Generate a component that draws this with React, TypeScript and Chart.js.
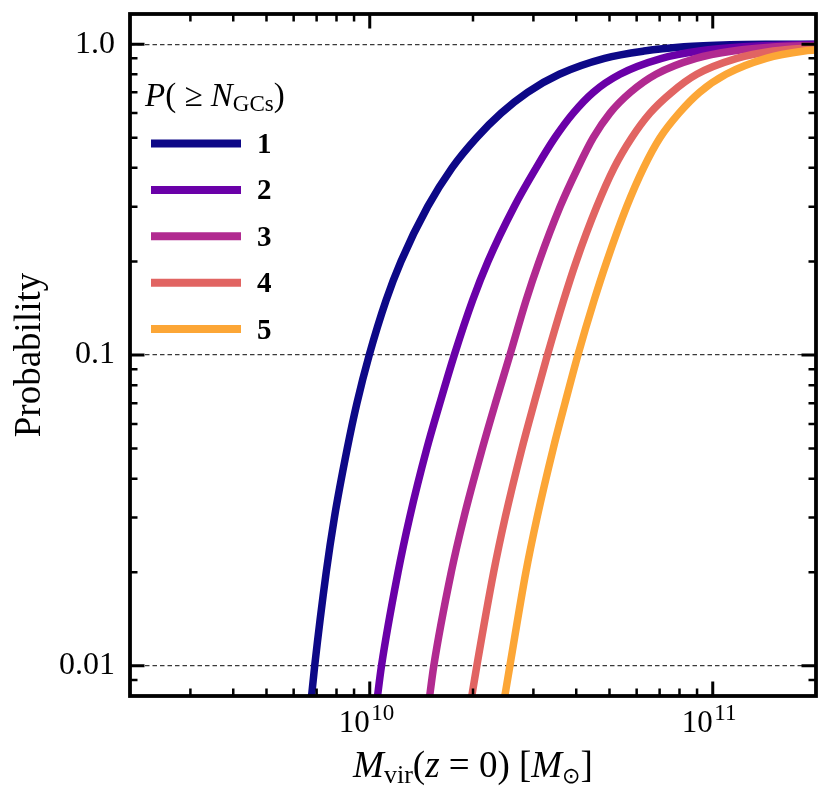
import React, { useEffect, useRef } from 'react';
import { Chart, registerables } from 'chart.js';

Chart.register(...registerables);

// ---- data (halo mass in Msun, cumulative probability) ----
const massN1 = [6.727e9, 6.910e9, 7.466e9, 7.888e9, 8.597e9, 9.176e9, 9.966e9, 1.116e10, 1.233e10, 1.475e10, 1.737e10, 2.049e10, 2.416e10, 2.884e10, 3.570e10, 4.837e10, 6.303e10, 8.244e10, 1.123e11, 1.520e11, 2.0e11];
const probN1 = [0.0075, 0.01, 0.02, 0.03, 0.05, 0.07, 0.1, 0.15, 0.2, 0.3, 0.4, 0.5, 0.6, 0.7, 0.8, 0.9, 0.95, 0.98, 0.995, 0.999, 1.0];

const massN2 = [1.046e10, 1.082e10, 1.209e10, 1.307e10, 1.467e10, 1.601e10, 1.764e10, 1.995e10, 2.211e10, 2.637e10, 3.057e10, 3.466e10, 3.919e10, 4.483e10, 5.364e10, 7.099e10, 9.139e10, 1.226e11, 1.798e11, 2.0e11];
const probN2 = [0.0075, 0.01, 0.02, 0.03, 0.05, 0.07, 0.1, 0.15, 0.2, 0.3, 0.4, 0.5, 0.6, 0.7, 0.8, 0.9, 0.95, 0.98, 0.995, 0.997];

const massN3 = [1.484e10, 1.537e10, 1.728e10, 1.881e10, 2.129e10, 2.325e10, 2.562e10, 2.856e10, 3.117e10, 3.589e10, 4.043e10, 4.483e10, 5.016e10, 5.756e10, 6.832e10, 8.939e10, 1.146e11, 1.530e11, 2.0e11];
const probN3 = [0.0075, 0.01, 0.02, 0.03, 0.05, 0.07, 0.1, 0.15, 0.2, 0.3, 0.4, 0.5, 0.6, 0.7, 0.8, 0.9, 0.95, 0.98, 0.99];

const massN4 = [1.965e10, 2.052e10, 2.297e10, 2.482e10, 2.777e10, 3.014e10, 3.296e10, 3.675e10, 3.999e10, 4.590e10, 5.156e10, 5.803e10, 6.562e10, 7.592e10, 8.981e10, 1.175e11, 1.500e11, 2.0e11];
const probN4 = [0.0075, 0.01, 0.02, 0.03, 0.05, 0.07, 0.1, 0.15, 0.2, 0.3, 0.4, 0.5, 0.6, 0.7, 0.8, 0.9, 0.95, 0.975];

const massN5 = [2.452e10, 2.562e10, 2.852e10, 3.075e10, 3.427e10, 3.709e10, 4.045e10, 4.510e10, 4.909e10, 5.611e10, 6.286e10, 7.018e10, 7.974e10, 9.151e10, 1.093e11, 1.431e11, 1.847e11, 2.0e11];
const probN5 = [0.0075, 0.01, 0.02, 0.03, 0.05, 0.07, 0.1, 0.15, 0.2, 0.3, 0.4, 0.5, 0.6, 0.7, 0.8, 0.9, 0.95, 0.957];

const seriesLabels = ['1', '2', '3', '4', '5'];
const seriesColors = ['#0d0887', '#6a00a8', '#b12a90', '#e16462', '#fca636'];
const seriesMass = [massN1, massN2, massN3, massN4, massN5];
const seriesProb = [probN1, probN2, probN3, probN4, probN5];

const yTickValues = [0.01, 0.1, 1];
const yTickLabels = ['0.01', '0.1', '1.0'];
const yMinorValues = [0.009, 0.02, 0.03, 0.04, 0.05, 0.06, 0.07, 0.08, 0.09, 0.2, 0.3, 0.4, 0.5, 0.6, 0.7, 0.8, 0.9];
const xTickValues = [1e10, 1e11];
const xTickBase = '10';
const xTickExponents = ['10', '11'];
const xMinorValues = [3e9, 4e9, 5e9, 6e9, 7e9, 8e9, 9e9, 2e10, 3e10, 4e10, 5e10, 6e10, 7e10, 8e10, 9e10];

const X_MIN = 2e9;
const X_MAX = 2e11;
const Y_MIN = 0.008;
const Y_MAX = 1.25;

const SERIF = '"Liberation Serif", "DejaVu Serif", serif';

type Run = { t: string; font: string; dy?: number };

function runsWidth(ctx: CanvasRenderingContext2D, runs: Run[]) {
  let w = 0;
  for (const r of runs) {
    ctx.font = r.font;
    w += ctx.measureText(r.t).width;
  }
  return w;
}

function drawRuns(ctx: CanvasRenderingContext2D, runs: Run[], x: number, y: number) {
  let cx = x;
  ctx.textAlign = 'left';
  ctx.textBaseline = 'alphabetic';
  for (const r of runs) {
    ctx.font = r.font;
    ctx.fillText(r.t, cx, y + (r.dy || 0));
    cx += ctx.measureText(r.t).width;
  }
}

const framePlugin = {
  id: 'frameTicks',
  afterDatasetsDraw(chart: any) {
    const { ctx, chartArea } = chart;
    const { left, right, top, bottom } = chartArea;
    const xs = chart.scales.x;
    const ys = chart.scales.y;
    ctx.save();
    ctx.strokeStyle = '#000';
    ctx.lineCap = 'butt';
    const xTick = (v: number, len: number, w: number) => {
      const px = xs.getPixelForValue(v);
      ctx.lineWidth = w;
      ctx.beginPath();
      ctx.moveTo(px, bottom);
      ctx.lineTo(px, bottom - len);
      ctx.moveTo(px, top);
      ctx.lineTo(px, top + len);
      ctx.stroke();
    };
    const yTick = (v: number, len: number, w: number) => {
      const py = ys.getPixelForValue(v);
      ctx.lineWidth = w;
      ctx.beginPath();
      ctx.moveTo(left, py);
      ctx.lineTo(left + len, py);
      ctx.moveTo(right, py);
      ctx.lineTo(right - len, py);
      ctx.stroke();
    };
    xMinorValues.forEach((v) => xTick(v, 7.5, 2.5));
    xTickValues.forEach((v) => xTick(v, 14.5, 3));
    yMinorValues.forEach((v) => yTick(v, 7.5, 2.5));
    yTickValues.forEach((v) => yTick(v, 14.5, 3));
    ctx.lineWidth = 3.8;
    ctx.strokeRect(left, top, right - left, bottom - top);
    ctx.restore();
  },
  afterDraw(chart: any) {
    const { ctx, chartArea } = chart;
    const xs = chart.scales.x;
    ctx.save();
    ctx.fillStyle = '#000';

    // x tick labels: 10^10, 10^11
    xTickValues.forEach((v, i) => {
      const px = xs.getPixelForValue(v);
      ctx.font = `31px ${SERIF}`;
      ctx.textAlign = 'right';
      ctx.textBaseline = 'alphabetic';
      ctx.fillText(xTickBase, px, 731.5);
      ctx.font = `23px ${SERIF}`;
      ctx.textAlign = 'left';
      ctx.fillText(xTickExponents[i], px + 1.5, 719.5);
    });

    // x axis title
    const big = `37px ${SERIF}`;
    const bigIt = `italic 37px ${SERIF}`;
    const small = `26px ${SERIF}`;
    const xRuns: Run[] = [
      { t: 'M', font: bigIt },
      { t: 'vir', font: small, dy: 6 },
      { t: '(', font: big },
      { t: 'z', font: bigIt },
      { t: ' = ', font: big },
      { t: '0', font: big },
      { t: ') [', font: big },
      { t: 'M', font: bigIt },
      { t: '\u2299', font: `22px "DejaVu Sans", ${SERIF}`, dy: 6 },
      { t: ']', font: big },
    ];
    const cx = (chartArea.left + chartArea.right) / 2;
    const xw = runsWidth(ctx, xRuns);
    drawRuns(ctx, xRuns, cx - xw / 2, 777);

    // y axis title
    ctx.save();
    ctx.translate(40, (chartArea.top + chartArea.bottom) / 2);
    ctx.rotate(-Math.PI / 2);
    ctx.font = `37px ${SERIF}`;
    ctx.textAlign = 'center';
    ctx.textBaseline = 'alphabetic';
    ctx.fillText('Probability', 0, 0);
    ctx.restore();

    // legend title
    const tFont = `33px ${SERIF}`;
    const tIt = `italic 33px ${SERIF}`;
    const titleRuns: Run[] = [
      { t: 'P', font: tIt },
      { t: '( \u2265 ', font: tFont },
      { t: 'N', font: tIt },
      { t: 'GCs', font: `23px ${SERIF}`, dy: 5 },
      { t: ')', font: tFont },
    ];
    drawRuns(ctx, titleRuns, 145, 106);

    // legend entries
    const legendY0 = 143.5;
    const legendDy = 46.4;
    seriesLabels.forEach((lab, i) => {
      const y = legendY0 + i * legendDy;
      ctx.strokeStyle = seriesColors[i];
      ctx.lineWidth = 8;
      ctx.lineCap = 'butt';
      ctx.beginPath();
      ctx.moveTo(151, y);
      ctx.lineTo(241, y);
      ctx.stroke();
      ctx.fillStyle = '#000';
      ctx.font = `bold 29px ${SERIF}`;
      ctx.textAlign = 'left';
      ctx.textBaseline = 'middle';
      ctx.fillText(lab, 257, y + 2);
    });
    ctx.restore();
  },
};

export default function App() {
  const canvasRef = useRef<HTMLCanvasElement>(null);

  useEffect(() => {
    const canvas = canvasRef.current;
    if (!canvas) return;
    const datasets = seriesLabels.map((lab, i) => ({
      label: lab,
      data: seriesMass[i].map((m, j) => ({ x: m, y: seriesProb[i][j] })),
      borderColor: seriesColors[i],
      backgroundColor: seriesColors[i],
      borderWidth: 7.5,
      pointRadius: 0,
      fill: false,
      cubicInterpolationMode: 'monotone' as const,
      clip: 0,
      order: seriesLabels.length - 1 - i,
    }));
    const chart = new Chart(canvas, {
      type: 'line',
      data: { datasets },
      options: {
        responsive: false,
        animation: false,
        devicePixelRatio: 1,
        layout: { padding: { left: 0, top: 14, right: 15, bottom: 0 } },
        plugins: { legend: { display: false }, tooltip: { enabled: false } },
        scales: {
          x: {
            type: 'logarithmic',
            min: X_MIN,
            max: X_MAX,
            ticks: { display: false },
            grid: { display: false },
            border: { display: false },
            afterFit: (s: any) => {
              s.height = 106;
              s.paddingLeft = 0;
              s.paddingRight = 0;
            },
          },
          y: {
            type: 'logarithmic',
            min: Y_MIN,
            max: Y_MAX,
            afterBuildTicks: (s: any) => {
              s.ticks = yTickValues.map((v) => ({ value: v }));
            },
            ticks: {
              autoSkip: false,
              padding: 15,
              color: '#000',
              font: { family: SERIF, size: 32 },
              callback: (_v: any, i: number) => yTickLabels[i] ?? '',
            },
            grid: { color: '#3a3a3a', lineWidth: 1.2, drawTicks: false },
            border: { display: false, dash: [4.5, 3] },
            afterFit: (s: any) => {
              s.width = 130;
              s.paddingTop = 0;
              s.paddingBottom = 0;
            },
          },
        },
      } as any,
      plugins: [framePlugin],
    });
    return () => chart.destroy();
  }, []);

  return (
    <div style={{ position: 'absolute', left: 0, top: 0, width: 831, height: 802, background: '#fff' }}>
      <canvas ref={canvasRef} width={831} height={802} style={{ display: 'block', width: 831, height: 802 }} />
    </div>
  );
}
